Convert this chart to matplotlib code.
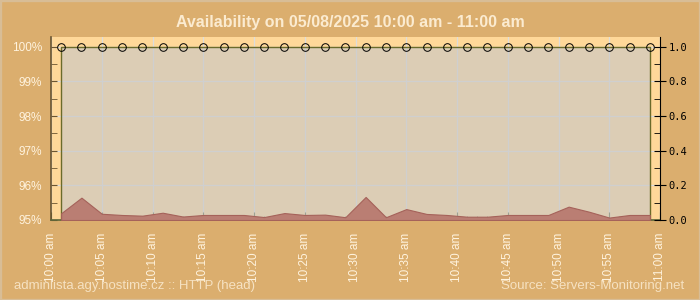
import matplotlib
matplotlib.use("Agg")
import matplotlib.pyplot as plt
from matplotlib.ticker import MultipleLocator, FixedLocator
from matplotlib.patches import Rectangle

# data: minutes after 10:00 (checks every 2 minutes)
minutes = [1, 3, 5, 7, 9, 11, 13, 15, 17, 19, 21, 23, 25, 27, 29,
           31, 33, 35, 37, 39, 41, 43, 45, 47, 49, 51, 53, 55, 57, 59]
availability = [100] * 30
response = [0.039, 0.129, 0.036, 0.029, 0.025, 0.042, 0.020, 0.029, 0.029, 0.029,
            0.017, 0.040, 0.029, 0.031, 0.016, 0.133, 0.016, 0.063, 0.035, 0.029,
            0.019, 0.019, 0.029, 0.029, 0.029, 0.077, 0.048, 0.014, 0.029, 0.029]
tick_minutes = [0, 5, 10, 15, 20, 25, 30, 35, 40, 45, 50, 55, 60]
tick_labels = ["10:00 am", "10:05 am", "10:10 am", "10:15 am", "10:20 am", "10:25 am",
               "10:30 am", "10:35 am", "10:40 am", "10:45 am", "10:50 am", "10:55 am",
               "11:00 am"]
pct_ticks = [95, 96, 97, 98, 99, 100]
pct_labels = ["95%", "96%", "97%", "98%", "99%", "100%"]

plt.rcParams['font.family'] = ['Liberation Sans', 'DejaVu Sans']
cream = '#FFF3DE'

fig = plt.figure(figsize=(7, 3), dpi=100, facecolor='#DBAE6E')
fig.patches.append(Rectangle((0, 0), 1, 1, transform=fig.transFigure, fill=False,
                             edgecolor='#D8BD96', lw=2.4))

ax = fig.add_axes([51/700, 1 - 220/300, 609/700, (220 - 36.7)/300])
ax.set_facecolor('#FFD899')
ax.set_xlim(0, 60)
ax.set_ylim(95, 100.29)

ax.grid(True, color='#DCDCDC', lw=0.9)
ax.set_axisbelow(True)

# availability area
ax.fill_between(minutes, 95, availability, facecolor=(0.78, 0.78, 0.78, 0.62),
                edgecolor='#6B6B2A', lw=1.0, zorder=2)
ax.plot(minutes, availability, 'o', ms=5.5, mfc='none', mec='black', mew=0.7, zorder=3,
        clip_on=False)

ax.xaxis.set_major_locator(FixedLocator(tick_minutes))
ax.xaxis.set_minor_locator(MultipleLocator(1))
ax.set_xticks(tick_minutes)
ax.set_xticklabels(tick_labels, rotation=90, fontsize=8.5, color=cream)
ax.tick_params(axis='x', which='major', direction='in', length=6, color='#5E6638', pad=9)
ax.tick_params(axis='x', which='minor', direction='in', length=3, color='#5E6638')

ax.set_yticks(pct_ticks)
ax.set_yticklabels(pct_labels, fontsize=8.5, color=cream)
ax.yaxis.set_minor_locator(MultipleLocator(0.5))
ax.tick_params(axis='y', which='both', direction='in', length=4, color='#6B5530', pad=6.5)

for s in ['top', 'right']:
    ax.spines[s].set_visible(False)
ax.spines['left'].set_color('#6B5530')
ax.spines['left'].set_linewidth(1.2)
ax.spines['bottom'].set_color('#5E6638')
ax.spines['bottom'].set_linewidth(1.2)

# response time on right axis
ax2 = ax.twinx()
ax2.set_ylim(0, 1.058)
ax2.fill_between(minutes, 0, response, facecolor='#BA7E73', edgecolor='#A5625A', lw=0.8)
ax2.set_yticks([0.0, 0.2, 0.4, 0.6, 0.8, 1.0])
ax2.yaxis.set_minor_locator(MultipleLocator(0.1))
ax2.tick_params(axis='y', which='major', direction='inout', length=9, color='black',
                labelsize=7.5, pad=1.5)
ax2.tick_params(axis='y', which='minor', direction='in', length=4, color='black')
for lab in ax2.get_yticklabels():
    lab.set_family('DejaVu Sans Mono')
for s in ['top', 'left', 'bottom']:
    ax2.spines[s].set_visible(False)
ax2.spines['right'].set_color('black')

fig.text(0.5, 1 - 22/300, "Availability on 05/08/2025 10:00 am - 11:00 am",
         ha='center', va='center', fontsize=11.5, fontweight='bold', color='#FBEBD0')
fig.text(14/700, 1 - 286/300, "adminlista.agy.hostime.cz :: HTTP (head)",
         ha='left', va='center', fontsize=9.5, color='#FFF3DE', alpha=0.75)
fig.text(684/700, 1 - 286/300, "Source: Servers-Monitoring.net",
         ha='right', va='center', fontsize=9.5, color='#FFF3DE', alpha=0.75)

fig.savefig("out.png", dpi=100, facecolor=fig.get_facecolor())
